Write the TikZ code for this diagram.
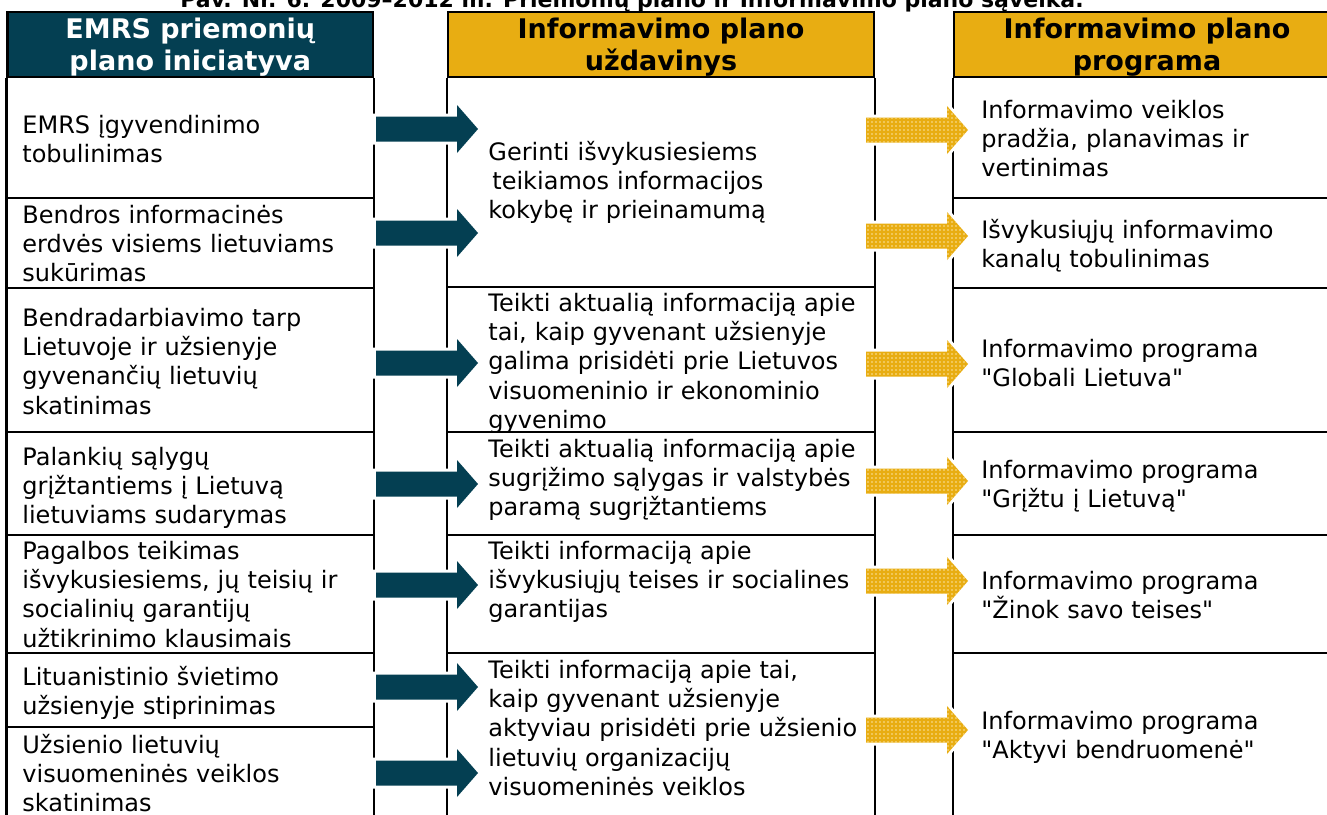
\documentclass[tikz,border=0pt]{standalone}
\usepackage{fontspec}
\setmainfont{DejaVu Sans}
\usetikzlibrary{patterns.meta}
\definecolor{emrsblue}{HTML}{043F52}
\definecolor{plangold}{HTML}{E8AD12}
\definecolor{dotgold}{HTML}{FBE3A0}
\tikzstyle{sheet}=[x=0.5pt, y=-0.5pt]
\tikzstyle{rule}=[black, line width=1.1pt]
\tikzstyle{colhead}=[draw=black, line width=1.1pt, inner sep=0pt, minimum height=32.5pt]
\tikzstyle{headtext}=[inner sep=0pt, align=center, yshift=-1.5pt, font=\fontsize{13.5}{16}\selectfont\bfseries]
\tikzstyle{celltext}=[anchor=base west, inner sep=0pt, text width=200pt, align=left, font=\fontsize{12}{14.7}\selectfont]
\tikzstyle{bluearrow}=[fill=emrsblue, preaction={draw=white, line width=3pt}]
\tikzstyle{goldarrow}=[fill=plangold, preaction={draw=white, line width=3pt}, postaction={pattern={Dots[distance=2pt, radius=0.45pt]}, pattern color=dotgold}]
\tikzset{pics/shaftarrow/.style={code={
  \path[#1] (0,-12.5) -- (81,-12.5) -- (81,-24) -- (102,0) -- (81,24) -- (81,12.5) -- (0,12.5) -- cycle;
}}}
\newcommand{\qq}{\textquotedbl}

\begin{document}
\begin{tikzpicture}[sheet]
  \clip (0,0) rectangle (1327,814);
  % title, cut by the top edge
  \node[anchor=base, font=\fontsize{11}{13}\selectfont\bfseries] (title) at (632,7) {Pav. Nr. 6. 2009–2012 m. Priemonių plano ir Informavimo plano sąveika.};

  % column heads
  \node[colhead, fill=emrsblue, minimum width=182.75pt] (h1) at (190.25,44.5) {};
  \node[colhead, fill=plangold, minimum width=213pt] (h2) at (661,44.5) {};
  \node[colhead, fill=plangold, minimum width=193pt] (h3) at (1147,44.5) {};
  \node[headtext, text=white] (t1) at (h1.center) {EMRS priemonių\\plano iniciatyva};
  \node[headtext] (t2) at (h2.center) {Informavimo plano\\uždavinys};
  \node[headtext] (t3) at (h3.center) {Informavimo plano\\programa};

  % column borders
  \foreach \h in {h1,h2,h3} {
    \draw[rule] (\h.south west) -- ++(0,760);
    \draw[rule] (\h.south east) -- ++(0,760);
  }
  \foreach \y in {198,288,432,535,653,727} \draw[rule] (7.5,\y) -- (373,\y);
  \foreach \y in {287,432,535,653} \draw[rule] (448,\y) -- (874,\y);
  \foreach \y in {198,288,432,535,653} \draw[rule] (954,\y) -- (1340,\y);

  % initiatives
  \node[celltext] (l1) at (22,133) {EMRS įgyvendinimo\\tobulinimas};
  \node[celltext] (l2) at (22,223) {Bendros informacinės\\erdvės visiems lietuviams\\sukūrimas};
  \node[celltext] (l3) at (22,326) {Bendradarbiavimo tarp\\Lietuvoje ir užsienyje\\gyvenančių lietuvių\\skatinimas};
  \node[celltext] (l4) at (22,465) {Palankių sąlygų\\grįžtantiems į Lietuvą\\lietuviams sudarymas};
  \node[celltext] (l5) at (22,559) {Pagalbos teikimas\\išvykusiesiems, jų teisių ir\\socialinių garantijų\\užtikrinimo klausimais};
  \node[celltext] (l6) at (22,685) {Lituanistinio švietimo\\užsienyje stiprinimas};
  \node[celltext] (l7) at (22,753) {Užsienio lietuvių\\visuomeninės veiklos\\skatinimas};

  % tasks
  \node[celltext] (m1) at (488,160) {Gerinti išvykusiesiems\\\hspace*{2pt}teikiamos informacijos\\kokybę ir prieinamumą};
  \node[celltext] (m2) at (488,311) {Teikti aktualią informaciją apie\\tai, kaip gyvenant užsienyje\\galima prisidėti prie Lietuvos\\visuomeninio ir ekonominio\\gyvenimo};
  \node[celltext] (m3) at (488,457) {Teikti aktualią informaciją apie\\sugrįžimo sąlygas ir valstybės\\paramą sugrįžtantiems};
  \node[celltext] (m4) at (488,559) {Teikti informaciją apie\\išvykusiųjų teises ir socialines\\garantijas};
  \node[celltext] (m5) at (488,678) {Teikti informaciją apie tai,\\kaip gyvenant užsienyje\\aktyviau prisidėti prie užsienio\\lietuvių organizacijų\\visuomeninės veiklos};

  % programmes
  \node[celltext] (r1) at (981,118) {Informavimo veiklos\\pradžia, planavimas ir\\vertinimas};
  \node[celltext] (r2) at (981,238) {Išvykusiųjų informavimo\\kanalų tobulinimas};
  \node[celltext] (r3) at (981,357) {Informavimo programa\\\qq Globali Lietuva\qq};
  \node[celltext] (r4) at (981,478) {Informavimo programa\\\qq Grįžtu į Lietuvą\qq};
  \node[celltext] (r5) at (981,589) {Informavimo programa\\\qq Žinok savo teises\qq};
  \node[celltext] (r6) at (981,729) {Informavimo programa\\\qq Aktyvi bendruomenė\qq};

  % block arrows
  \foreach \y in {129,233,363,484,585,687,773} \pic at (376,\y) {shaftarrow=bluearrow};
  \foreach \y in {130,236,364,481,581,730} \pic at (866,\y) {shaftarrow=goldarrow};
\end{tikzpicture}
\end{document}
